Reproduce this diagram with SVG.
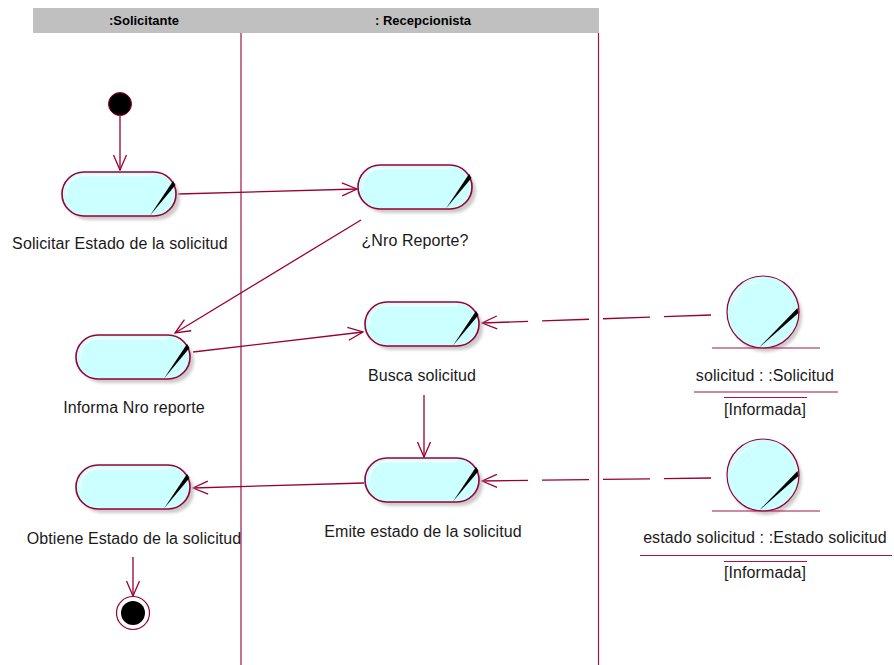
<svg xmlns="http://www.w3.org/2000/svg" xmlns:xlink="http://www.w3.org/1999/xlink" width="894" height="665" viewBox="0 0 894 665">
  <style>
    .lane-title { font-family: "Liberation Sans", Arial, sans-serif; font-size: 13px; font-weight: bold; fill: #000; text-anchor: middle; }
    .label { font-family: "Liberation Sans", Arial, sans-serif; font-size: 16px; letter-spacing: 0.1px; fill: #1a1a1a; text-anchor: middle; }
    .flow { fill: none; stroke: #990033; stroke-width: 1.3; }
    .objflow { fill: none; stroke: #990033; stroke-width: 1.3; stroke-dasharray: 47 14; }
    .rule { stroke: #A0144A; stroke-width: 1.2; }
    .act-body { fill: #CCFFFF; stroke: #990033; stroke-width: 1.6; }
    .shadow { fill: #BEBEBE; opacity: 0.8; }
    .gloss { fill: none; stroke: #FFFFFF; stroke-width: 1.3; }
  </style>
  <defs>
    <filter id="soft" x="-20%" y="-20%" width="140%" height="140%">
      <feGaussianBlur stdDeviation="1.5"/>
    </filter>
    <marker id="open" viewBox="-16 -8 17 16" refX="0" refY="0" markerWidth="17" markerHeight="16" orient="auto" markerUnits="userSpaceOnUse">
      <path d="M-15,-6.5 L0,0 L-15,6.5" fill="none" stroke="#990033" stroke-width="1.3"/>
    </marker>
    <!-- activity state: rounded capsule with shadow, gloss and corner stroke -->
    <g id="act">
      <rect class="shadow" x="4" y="4" width="114" height="44" rx="22" filter="url(#soft)"/>
      <rect class="act-body" x="0" y="0" width="114" height="44" rx="22"/>
      <path class="gloss" d="M4.5,24 A18,18 0 0 1 22,3.5 H92"/>
      <polygon points="88,43.5 111,9 113.5,13" fill="#000"/>
    </g>
    <!-- entity object: circle with shadow and corner stroke -->
    <g id="obj">
      <circle cx="3" cy="4" r="36" fill="#BEBEBE" opacity="0.8" filter="url(#soft)"/>
      <circle cx="0" cy="0" r="36" fill="#CCFFFF" stroke="#990033" stroke-width="1.2"/>
      <path d="M-30,-8 A30,30 0 0 1 -5,-30" fill="none" stroke="#fff" stroke-width="1.2"/>
      <polygon points="-4,35.5 34.5,-4 35.5,1" fill="#000"/>
    </g>
  </defs>

  <!-- swimlanes -->
  <g id="lanes">
    <rect x="33" y="8" width="566" height="25" fill="#C0C0C0"/>
    <text class="lane-title" x="144" y="25">:Solicitante</text>
    <text class="lane-title" x="423" y="25">: Recepcionista</text>
    <line class="rule" x1="241" y1="33" x2="241" y2="665"/>
    <line class="rule" x1="598.5" y1="33" x2="598.5" y2="665"/>
  </g>

  <!-- connectors -->
  <g id="connectors">
    <line class="flow" x1="120" y1="116" x2="120" y2="170" marker-end="url(#open)"/>
    <line class="flow" x1="178" y1="194" x2="357" y2="189" marker-end="url(#open)"/>
    <line class="flow" x1="361" y1="220" x2="175" y2="333" marker-end="url(#open)"/>
    <line class="flow" x1="193" y1="352" x2="363" y2="332" marker-end="url(#open)"/>
    <line class="flow" x1="424" y1="395" x2="424" y2="457" marker-end="url(#open)"/>
    <line class="flow" x1="364" y1="483" x2="193" y2="488" marker-end="url(#open)"/>
    <line class="flow" x1="133" y1="557" x2="133" y2="596" marker-end="url(#open)"/>
    <line class="objflow" x1="711" y1="315" x2="482" y2="323" marker-end="url(#open)"/>
    <line class="objflow" x1="711" y1="478" x2="482" y2="481" marker-end="url(#open)"/>
  </g>

  <!-- initial state -->
  <g id="start">
    <circle cx="120" cy="104" r="11.5" fill="#000" stroke="#990033" stroke-width="1"/>
  </g>

  <!-- activities -->
  <g id="solicitar-estado">
    <use xlink:href="#act" x="62" y="172"/>
    <text class="label" x="120" y="249">Solicitar Estado de la solicitud</text>
  </g>
  <g id="nro-reporte">
    <use xlink:href="#act" x="358" y="165"/>
    <text class="label" x="415" y="246">¿Nro Reporte?</text>
  </g>
  <g id="informa-nro">
    <use xlink:href="#act" x="76" y="335"/>
    <text class="label" x="134" y="413">Informa Nro reporte</text>
  </g>
  <g id="busca-solicitud">
    <use xlink:href="#act" x="365" y="302"/>
    <text class="label" x="422" y="381">Busca solicitud</text>
  </g>
  <g id="obtiene-estado">
    <use xlink:href="#act" x="76" y="465"/>
    <text class="label" x="134" y="544">Obtiene Estado de la solicitud</text>
  </g>
  <g id="emite-estado">
    <use xlink:href="#act" x="365" y="458"/>
    <text class="label" x="423" y="537">Emite estado de la solicitud</text>
  </g>

  <!-- final state -->
  <g id="end">
    <circle cx="133" cy="613" r="16.5" fill="#fff" stroke="#990033" stroke-width="1.2"/>
    <circle cx="133" cy="613" r="12" fill="#000"/>
  </g>

  <!-- objects -->
  <g id="obj-solicitud">
    <use xlink:href="#obj" x="763" y="312"/>
    <line class="rule" x1="712" y1="348" x2="820" y2="348"/>
    <text class="label" x="765" y="381">solicitud : :Solicitud</text>
    <line class="rule" x1="694" y1="392" x2="838" y2="392"/>
    <line class="rule" x1="724" y1="397.5" x2="807" y2="397.5"/>
    <text class="label" x="765" y="415">[Informada]</text>
  </g>
  <g id="obj-estado">
    <use xlink:href="#obj" x="763" y="475"/>
    <line class="rule" x1="712" y1="511" x2="820" y2="511"/>
    <text class="label" x="765" y="543">estado solicitud : :Estado solicitud</text>
    <line class="rule" x1="640" y1="555.5" x2="892" y2="555.5"/>
    <line class="rule" x1="724" y1="561.5" x2="807" y2="561.5"/>
    <text class="label" x="765" y="578">[Informada]</text>
  </g>
</svg>
